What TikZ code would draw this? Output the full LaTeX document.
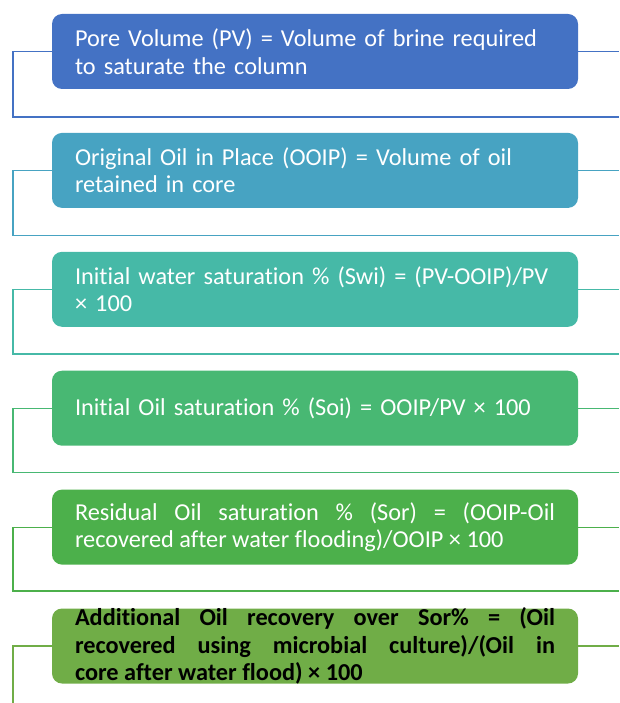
\documentclass[tikz,border=0pt]{standalone}
\usepackage{fontspec}
\setmainfont{Carlito}[Ligatures=NoCommon]
\usepackage{tikz}
\usetikzlibrary{positioning}
\definecolor{pvblue}{HTML}{4472C4}
\definecolor{ooipcyan}{HTML}{47A3C2}
\definecolor{switeal}{HTML}{46B9A7}
\definecolor{soigreen}{HTML}{48B873}
\definecolor{sorgreen}{HTML}{4CB04B}
\definecolor{addgreen}{HTML}{70AD47}

\begin{document}
\begin{tikzpicture}[
        x = 1pt, y = 1pt,
        node distance = 43.5pt,
        stage/.style = {rectangle, rounded corners=10pt, minimum width=526pt, minimum height=75pt, text width=480pt, inner xsep=23pt, inner ysep=0pt, align=left, text=white, font=\fontsize{24.3}{27.5}\selectfont},
        link/.style  = {line width=1.1pt},
    ]
        \useasboundingbox (0,0) rectangle (619,-703);
        \coordinate (rgt) at (619,0);

        \node[stage, fill=pvblue] (pv) at (315,-51.5) {Pore Volume (PV) = Volume of brine required\\to saturate the column};
        \node[stage, fill=ooipcyan, below=of pv] (ooip) {Original Oil in Place (OOIP) = Volume of oil\\retained in core};
        \node[stage, fill=switeal, below=of ooip] (swi) {Initial water saturation \% (Swi) = (PV-OOIP)/PV\\× 100};
        \node[stage, fill=soigreen, below=of swi] (soi) {Initial Oil saturation \% (Soi) = OOIP/PV × 100};
        \node[stage, fill=sorgreen, below=of soi, align=justify] (sor) {Residual Oil saturation \% (Sor) = (OOIP-Oil\linebreak recovered after water flooding)/OOIP × 100};
        \node[stage, fill=addgreen, below=of sor, align=justify, text=black, inner ysep=-2pt, font=\fontsize{24.3}{27.5}\selectfont\bfseries] (add) {Additional Oil recovery over Sor\% = (Oil\linebreak recovered using microbial culture)/(Oil in\linebreak core after water flood) × 100};

        \coordinate (pvbend) at (13,-117);
        \coordinate (ooipbend) at (13,-235.5);
        \coordinate (swibend) at (13,-354);
        \coordinate (soibend) at (13,-472.5);
        \coordinate (sorbend) at (13,-591);
        \coordinate (addend) at (13,-703);

        \draw[link, pvblue] (pv.west) -| (pvbend) -- (pvbend -| rgt);
        \draw[link, pvblue] (pv.east) -- (pv.east -| rgt);
        \draw[link, ooipcyan] (ooip.west) -| (ooipbend) -- (ooipbend -| rgt);
        \draw[link, ooipcyan] (ooip.east) -- (ooip.east -| rgt);
        \draw[link, switeal] (swi.west) -| (swibend) -- (swibend -| rgt);
        \draw[link, switeal] (swi.east) -- (swi.east -| rgt);
        \draw[link, soigreen] (soi.west) -| (soibend) -- (soibend -| rgt);
        \draw[link, soigreen] (soi.east) -- (soi.east -| rgt);
        \draw[link, sorgreen] (sor.west) -| (sorbend) -- (sorbend -| rgt);
        \draw[link, sorgreen] (sor.east) -- (sor.east -| rgt);
        \draw[link, addgreen] (add.west) -| (addend);
        \draw[link, addgreen] (add.east) -- (add.east -| rgt);
    \end{tikzpicture}
\end{document}
